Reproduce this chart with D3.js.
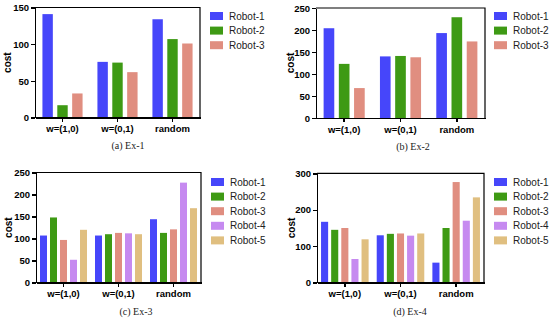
<!DOCTYPE html>
<html>
<head>
<meta charset="utf-8">
<title>cost bars</title>
<script src="https://cdn.jsdelivr.net/npm/d3@7"></script>
<style>
  body{margin:0;background:#fff;}
  .axis path,.axis line{stroke:#000;shape-rendering:crispEdges;}
  .axis text{font-family:"Liberation Sans",Arial,sans-serif;font-size:9.5px;font-weight:bold;fill:#000;}
  .ylab{font-family:"Liberation Sans",Arial,sans-serif;font-size:10px;font-weight:bold;}
  .legend{font-family:"Liberation Sans",Arial,sans-serif;font-size:10px;fill:#222;}
  .caption{font-family:"Liberation Serif","Times New Roman",serif;font-size:10px;fill:#222;}
</style>
</head>
<body>
<script>
// categories and series
var categories = ["w=(1,0)", "w=(0,1)", "random"];
var robots3 = ["Robot-1", "Robot-2", "Robot-3"];
var robots5 = ["Robot-1", "Robot-2", "Robot-3", "Robot-4", "Robot-5"];
var colors = ["#4646fa", "#3e9a14", "#e08e80", "#c68af0", "#e0bf80"];

// values per robot, in category order
var ex1 = [[141, 76, 134], [17, 75, 107], [33, 62, 101]];
var ex2 = [[204, 140, 193], [123, 141, 229], [68, 138, 174]];
var ex3 = [[107, 107, 144], [148, 110, 113], [97, 113, 121], [52, 112, 227], [120, 110, 169]];
var ex4 = [[167, 130, 55], [145, 134, 150], [150, 135, 276], [65, 129, 170], [119, 135, 234]];

var ticks1 = [0, 50, 100, 150];
var ticks2 = [0, 50, 100, 150, 200, 250];
var ticks3 = [0, 50, 100, 150, 200, 250];
var ticks4 = [0, 100, 200, 300];

var captions = ["(a)  Ex-1", "(b)  Ex-2", "(c)  Ex-3", "(d)  Ex-4"];

var svg = d3.select("body").append("svg")
  .attr("width", 550).attr("height", 320);

var panels = [
  {series: robots3, values: ex1, ticks: ticks1, x: [35, 200], y: [117.7, 7.5], lx: 210, ly: 16, cx: 128, cy: 149, label: 7},
  {series: robots3, values: ex2, ticks: ticks2, x: [316, 485], y: [118, 8], lx: 494, ly: 16, cx: 413, cy: 150, label: 290},
  {series: robots5, values: ex3, ticks: ticks3, x: [36, 201], y: [282.7, 172.5], lx: 211, ly: 182, cx: 136, cy: 315, label: 8},
  {series: robots5, values: ex4, ticks: ticks4, x: [317, 484], y: [282.7, 173.3], lx: 494, ly: 182, cx: 410, cy: 315, label: 291}
];

panels.forEach(function(p, k){
  var g = svg.append("g");
  var n = p.series.length;
  var x0 = d3.scaleBand().domain(categories).range(p.x);
  var x1 = d3.scaleBand().domain(p.series).range([0, x0.bandwidth()])
    .paddingInner(0.3).paddingOuter(n == 3 ? 0.5 : 0.4);
  var y = d3.scaleLinear().domain([0, d3.max(p.ticks)]).range(p.y);

  // bars
  p.series.forEach(function(s, i){
    g.selectAll(null)
      .data(p.values[i])
      .enter().append("rect")
      .attr("x", function(d, j){ return x0(categories[j]) + x1(s); })
      .attr("y", function(d){ return y(d); })
      .attr("width", x1.bandwidth())
      .attr("height", function(d){ return y(0) - y(d); })
      .attr("fill", colors[i]);
  });

  // frame top + right
  g.append("path")
    .attr("d", "M" + p.x[0] + "," + p.y[1] + "H" + p.x[1] + "V" + p.y[0])
    .attr("fill", "none").attr("stroke", "#000").attr("stroke-width", 1.2);

  g.append("g").attr("class", "axis")
    .attr("transform", "translate(" + p.x[0] + ",0)")
    .call(d3.axisLeft(y).tickValues(p.ticks).tickSize(4).tickPadding(2).tickSizeOuter(0))
    .call(function(a){ a.selectAll("path, line").attr("stroke-width", 1.5); });

  g.append("g").attr("class", "axis")
    .attr("transform", "translate(0," + p.y[0] + ")")
    .call(d3.axisBottom(x0).tickSize(4).tickPadding(4).tickSizeOuter(0))
    .call(function(a){ a.selectAll("path, line").attr("stroke-width", 1.5); });

  var mid = (p.y[0] + p.y[1]) / 2;
  g.append("text").attr("class", "ylab")
    .attr("transform", "translate(" + p.label + "," + mid + ") rotate(-90)")
    .attr("text-anchor", "middle").attr("dy", "0.35em")
    .text("cost");

  // legend
  var lg = g.selectAll(".lg").data(p.series).enter().append("g")
    .attr("transform", function(d, i){ return "translate(" + p.lx + "," + (p.ly + i * 14.6) + ")"; });
  lg.append("rect").attr("x", 0).attr("y", -4).attr("width", 13).attr("height", 8)
    .attr("fill", function(d, i){ return colors[i]; });
  lg.append("text").attr("class", "legend").attr("x", 19).attr("dy", "0.35em")
    .text(function(d){ return d; });

  g.append("text").attr("class", "caption")
    .attr("x", p.cx).attr("y", p.cy).attr("text-anchor", "middle")
    .text(captions[k]);
});
</script>
</body>
</html>
